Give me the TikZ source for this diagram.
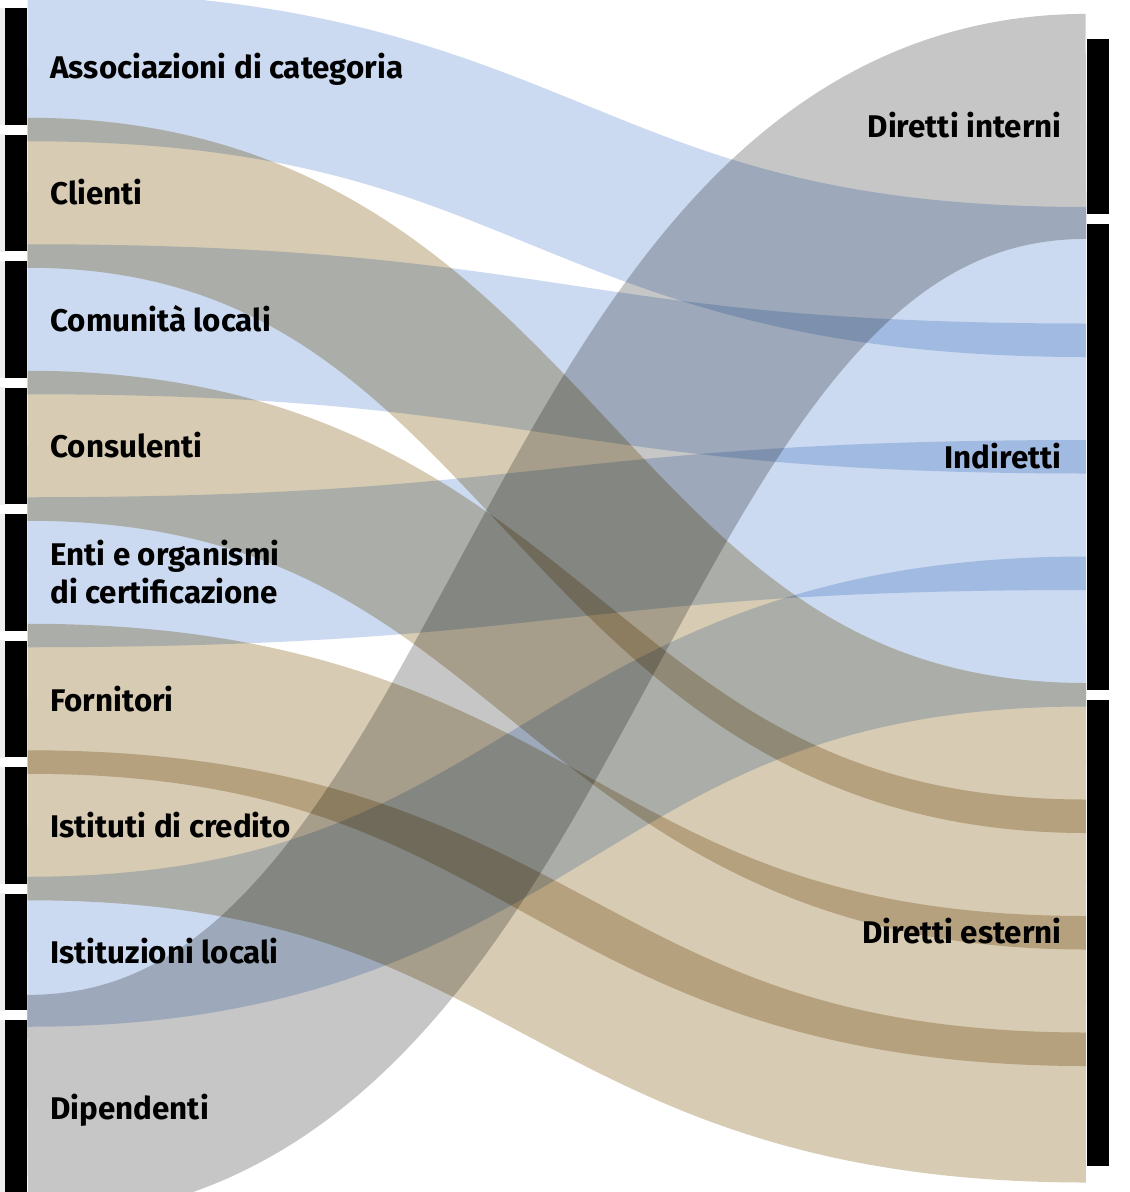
\documentclass[tikz,border=0pt]{standalone}
\usepackage{fontspec}
\setmainfont{Fira Sans}
\definecolor{flowblue}{RGB}{203,218,240}
\definecolor{flowtan}{RGB}{215,203,179}
\definecolor{flowgrey}{RGB}{198,198,198}
\definecolor{barshade}{RGB}{238,238,238}

\tikzset{every picture/.style={line width=0.75pt}}
\tikzset{
  lbar/.style={fill=black, inner sep=0pt, minimum width=16.5pt, minimum height=87.375pt},
  rbar/.style={fill=black, inner sep=0pt, minimum width=16.5pt},
  flow/.style={line width=#1*0.75pt, line cap=butt},
  lbl/.style={inner sep=0pt, font=\fontsize{23.5}{28.5}\selectfont\bfseries, text=black}
}

\begin{document}
\begin{tikzpicture}[x=0.75pt,y=0.75pt,yscale=-1,xscale=1]
\path[use as bounding box] (0,0) rectangle (1129,1192);

%Shape: left bars
\node[lbar] (assoc) at (16,66.25) {};
\node[lbar] (clienti) at (16,192.75) {};
\node[lbar] (comunita) at (16,319.25) {};
\node[lbar] (consulenti) at (16,445.75) {};
\node[lbar] (enti) at (16,572.25) {};
\node[lbar] (fornitori) at (16,698.75) {};
\node[lbar] (credito) at (16,825.25) {};
\node[lbar] (istituzioni) at (16,951.75) {};
\node[lbar, minimum height=131.06pt] (dipendenti) at (16,1107.4) {};
\foreach \n in {assoc,clienti,comunita,consulenti,enti,fornitori,credito,istituzioni,dipendenti}
  \fill[barshade] (\n.north west) rectangle ([xshift=-3.75pt]\n.south west);

%Shape: right bars
\node[rbar, minimum height=131.06pt] (interni) at (1098,126.4) {};
\node[rbar, minimum height=349.5pt] (indiretti) at (1098,456.75) {};
\node[rbar, minimum height=349.5pt] (esterni) at (1098,932.75) {};

% flow ends on the right
\coordinate (mid) at (556.5,0);
\coordinate (int-in) at (1086,126.4);
\coordinate (ind-a) at (1086,282);
\coordinate (ind-b) at (1086,398.5);
\coordinate (ind-c) at (1086,515);
\coordinate (ind-d) at (1086,631.5);
\coordinate (est-a) at (1086,758);
\coordinate (est-b) at (1086,874.5);
\coordinate (est-c) at (1086,991);
\coordinate (est-d) at (1086,1107.5);

\begin{scope}[blend group=multiply]
\clip (0,0) rectangle (1129,1192);
%Curve Lines
\draw[flow=150, flowblue] (assoc.east) .. controls (assoc.east -| mid) and (ind-a -| mid) .. (ind-a);
%Curve Lines
\draw[flow=150, flowtan] (clienti.east) .. controls (clienti.east -| mid) and (est-a -| mid) .. (est-a);
%Curve Lines
\draw[flow=150, flowblue] (comunita.east) .. controls (comunita.east -| mid) and (ind-b -| mid) .. (ind-b);
%Curve Lines
\draw[flow=150, flowtan] (consulenti.east) .. controls (consulenti.east -| mid) and (est-b -| mid) .. (est-b);
%Curve Lines
\draw[flow=150, flowblue] (enti.east) .. controls (enti.east -| mid) and (ind-c -| mid) .. (ind-c);
%Curve Lines
\draw[flow=150, flowtan] (fornitori.east) .. controls (fornitori.east -| mid) and (est-c -| mid) .. (est-c);
%Curve Lines
\draw[flow=150, flowtan] (credito.east) .. controls (credito.east -| mid) and (est-d -| mid) .. (est-d);
%Curve Lines
\draw[flow=150, flowblue] (istituzioni.east) .. controls (istituzioni.east -| mid) and (ind-d -| mid) .. (ind-d);
%Curve Lines
\draw[flow=225, flowgrey] (dipendenti.east) .. controls (dipendenti.east -| mid) and (int-in -| mid) .. (int-in);
\end{scope}

% Text Node
\node[lbl, anchor=base west] (assoc-t) at (50,78.5) {Associazioni di categoria};
% Text Node
\node[lbl, anchor=base west] (clienti-t) at (50,204.5) {Clienti};
% Text Node
\node[lbl, anchor=base west] (comunita-t) at (50,331.5) {Comunità locali};
% Text Node
\node[lbl, anchor=base west] (consulenti-t) at (50,457.5) {Consulenti};
% Text Node
\node[lbl, anchor=base west, align=left] (enti-t) at (50,603) {Enti e organismi\\di certificazione};
% Text Node
\node[lbl, anchor=base west] (fornitori-t) at (50,711) {Fornitori};
% Text Node
\node[lbl, anchor=base west] (credito-t) at (50,837) {Istituti di credito};
% Text Node
\node[lbl, anchor=base west] (istituzioni-t) at (50,963.5) {Istituzioni locali};
% Text Node
\node[lbl, anchor=base west] (dipendenti-t) at (50,1119.5) {Dipendenti};
% Text Node
\node[lbl, anchor=base east] (interni-t) at (1062,137) {Diretti interni};
% Text Node
\node[lbl, anchor=base east] (indiretti-t) at (1062,468.5) {Indiretti};
% Text Node
\node[lbl, anchor=base east] (esterni-t) at (1062,943) {Diretti esterni};

\end{tikzpicture}
\end{document}
